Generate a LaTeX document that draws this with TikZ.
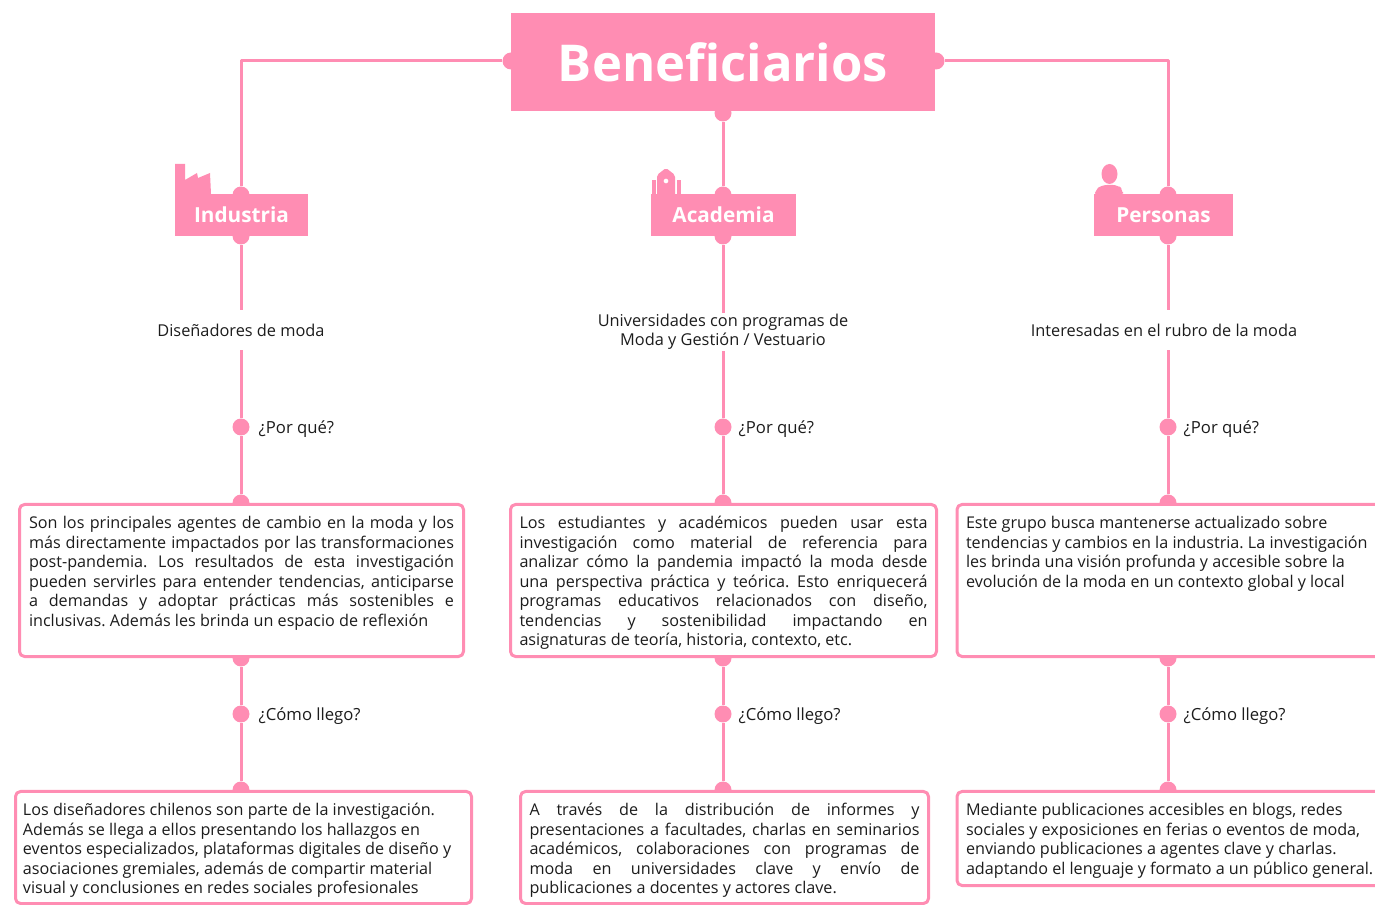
\documentclass[tikz,border=0pt]{standalone}
\usepackage{fontspec}
\setmainfont{Open Sans}
\usetikzlibrary{positioning, calc}
\definecolor{rosa}{HTML}{FF8DB3}
\definecolor{tinta}{HTML}{1C1C1C}
\frenchspacing
% Text in a box: width, height, text
\newcommand{\boxtext}[3]{\parbox[t][#2][t]{#1}{\fontsize{9.2}{11.1}\selectfont #3}}
\begin{document}
\begin{tikzpicture}[
    x=0.2mm, y=-0.2mm,
    line join=round,
    % Styles
    title/.style={ % Top box
        rectangle,
        fill=rosa,
        text=white,
        font=\fontsize{28.9}{30}\selectfont\bfseries,
        minimum width=84.8mm,
        minimum height=19.6mm
    },
    group/.style={ % Beneficiary groups
        rectangle,
        fill=rosa,
        text=white,
        font=\fontsize{11.8}{14}\selectfont\bfseries,
        minimum height=8.4mm,
        text height=3.2mm,
        text depth=0pt,
        inner sep=0pt
    },
    dot/.style={ % Pink joints
        circle,
        fill=rosa,
        inner sep=0pt,
        minimum size=3.4mm
    },
    who/.style={ % Text under a group
        align=center,
        text=tinta,
        minimum height=8mm,
        inner sep=0pt,
        font=\fontsize{9.3}{11.1}\selectfont
    },
    ask/.style={ % Questions
        text=tinta,
        inner sep=0pt,
        yshift=-0.4mm,
        font=\fontsize{9.5}{11}\selectfont
    },
    textbox/.style={ % Boxes with a paragraph
        rectangle,
        draw=rosa,
        line width=0.6mm,
        rounded corners=1mm,
        fill=white,
        text=tinta,
        anchor=north west,
        inner xsep=1.8mm,
        inner ysep=2.4mm
    },
    link/.style={ % Connectors
        draw=rosa,
        line width=0.6mm
    }
]
    \useasboundingbox (0,0) rectangle (1375,905);

    % Joints on the title and the groups
    \node [dot] (titleL) at (511,61) {};
    \node [dot] (titleR) at (936,61) {};
    \node [dot] (titleB) at (723,113) {};
    \node [dot] (indT) at (241,195) {};
    \node [dot] (indB) at (241,236) {};
    \node [dot] (acaT) at (723,195) {};
    \node [dot] (acaB) at (723,236) {};
    \node [dot] (perT) at (1168,195) {};
    \node [dot] (perB) at (1168,236) {};

    % Joints on the questions and on the boxes
    \node [dot] (indQ) at (241,427) {};
    \node [dot] (acaQ) at (723,427) {};
    \node [dot] (perQ) at (1168,427) {};
    \node [dot] (indW) at (241,503) {};
    \node [dot] (acaW) at (723,503) {};
    \node [dot] (perW) at (1168,503) {};
    \node [dot] (indX) at (241,658) {};
    \node [dot] (acaX) at (723,658) {};
    \node [dot] (perX) at (1168,658) {};
    \node [dot] (indC) at (241,714) {};
    \node [dot] (acaC) at (723,714) {};
    \node [dot] (perC) at (1168,714) {};
    \node [dot] (indH) at (241,790) {};
    \node [dot] (acaH) at (723,790) {};
    \node [dot] (perH) at (1168,790) {};

    % Title and groups
    \node [title] (title) at (723,62) {Beneficiarios};
    \node [group, minimum width=26.6mm] (industria) at (241.5,215) {Industria};
    \node [group, minimum width=29mm] (academia) at (723.5,215) {Academia};
    \node [group, minimum width=27.8mm] (personas) at (1163.5,215) {Personas};

    % Icons
    \fill [rosa] (175,194) -- (175,164) -- (185,164) -- (185,180) -- (197,173) -- (198,178) -- (210,173) -- (211,194) -- cycle;
    \fill [rosa] (652,194) -- (652,180) -- (656,180) -- (656,194) -- cycle;
    \fill [rosa] (677,194) -- (677,180) -- (681,180) -- (681,194) -- cycle;
    \fill [rosa, even odd rule, rounded corners=0.4mm] (657,196) -- (657,175) -- (666,168) -- (675,175) -- (675,196) -- cycle (666,181) circle [radius=2.5];
    \fill [rosa] (1109.5,174) ellipse [x radius=8, y radius=10];
    \fill [rosa, rounded corners=1mm] (1095,197) -- (1095,190) -- (1102,185) -- (1118,185) -- (1123,190) -- (1123,197) -- cycle;

    % Who they are
    \node [who] (disenadores) at (241,330) {Diseñadores de moda};
    \node [who, minimum height=7.6mm] (universidades) at (723,332) {Universidades con programas de\\Moda y Gestión / Vestuario};
    \node [who] (interesadas) at (1164,330) {Interesadas en el rubro de la moda};

    % Questions
    \node [ask, right=1.7mm of indQ] (indPq) {¿Por qué?};
    \node [ask, right=1.3mm of acaQ] (acaPq) {¿Por qué?};
    \node [ask, right=1.3mm of perQ] (perPq) {¿Por qué?};
    \node [ask, right=1.7mm of indC] (indCl) {¿Cómo llego?};
    \node [ask, right=1.3mm of acaC] (acaCl) {¿Cómo llego?};
    \node [ask, right=1.3mm of perC] (perCl) {¿Cómo llego?};

    % Connectors
    \draw [link] (titleL) -| (indT);
    \draw [link] (titleR) -| (perT);
    \draw [link] (titleB) -- (acaT);
    \draw [link] (indB) -- (disenadores);
    \draw [link] (acaB) -- (universidades);
    \draw [link] (perB) -- (perB |- interesadas.north);
    \draw [link] (disenadores) -- (indQ);
    \draw [link] (universidades) -- (acaQ);
    \draw [link] (perB |- interesadas.south) -- (perQ);
    \draw [link] (indQ) -- (indW);
    \draw [link] (acaQ) -- (acaW);
    \draw [link] (perQ) -- (perW);
    \draw [link] (indX) -- (indC);
    \draw [link] (acaX) -- (acaC);
    \draw [link] (perX) -- (perC);
    \draw [link] (indC) -- (indH);
    \draw [link] (acaC) -- (acaH);
    \draw [link] (perC) -- (perH);

    % Why
    \node [textbox, inner xsep=1.9mm] (indWhy) at (18,503) {\boxtext{85mm}{25.6mm}{Son los principales agentes de cambio en la moda y los\linebreak
      más directamente impactados por las transformaciones\linebreak
      post-pandemia. Los resultados de esta investigación\linebreak
      pueden servirles para entender tendencias, anticiparse\linebreak
      a demandas y adoptar prácticas más sostenibles e\linebreak
      inclusivas. Además les brinda un espacio de reflexión}};
    \node [textbox] (acaWhy) at (509,503) {\boxtext{81.6mm}{25.6mm}{Los estudiantes y académicos pueden usar esta\linebreak
      investigación como material de referencia para\linebreak
      analizar cómo la pandemia impactó la moda desde\linebreak
      una perspectiva práctica y teórica. Esto enriquecerá\linebreak
      programas educativos relacionados con diseño,\linebreak
      tendencias y sostenibilidad impactando en\linebreak
      asignaturas de teoría, historia, contexto, etc.}};
    \node [textbox] (perWhy) at (955.5,503) {\boxtext{84.8mm}{25.6mm}{\raggedright Este grupo busca mantenerse actualizado sobre\\
      tendencias y cambios en la industria. La investigación\\
      les brinda una visión profunda y accesible sobre la\\
      evolución de la moda en un contexto global y local}};

    % How
    \node [textbox, inner xsep=1.5mm] (indHow) at (14,790) {\boxtext{88.2mm}{17.6mm}{\raggedright Los diseñadores chilenos son parte de la investigación.\\
      Además se llega a ellos presentando los hallazgos en\\
      eventos especializados, plataformas digitales de diseño y\\
      asociaciones gremiales, además de compartir material\\
      visual y conclusiones en redes sociales profesionales}};
    \node [textbox] (acaHow) at (519,790) {\boxtext{78mm}{17.6mm}{A través de la distribución de informes y\linebreak
      presentaciones a facultades, charlas en seminarios\linebreak
      académicos, colaboraciones con programas de\linebreak
      moda en universidades clave y envío de\linebreak
      publicaciones a docentes y actores clave.}};
    \node [textbox] (perHow) at (955.5,790) {\boxtext{84.8mm}{14mm}{\raggedright Mediante publicaciones accesibles en blogs, redes\\
      sociales y exposiciones en ferias o eventos de moda,\\
      enviando publicaciones a agentes clave y charlas.\\
      adaptando el lenguaje y formato a un público general.}};
\end{tikzpicture}
\end{document}
